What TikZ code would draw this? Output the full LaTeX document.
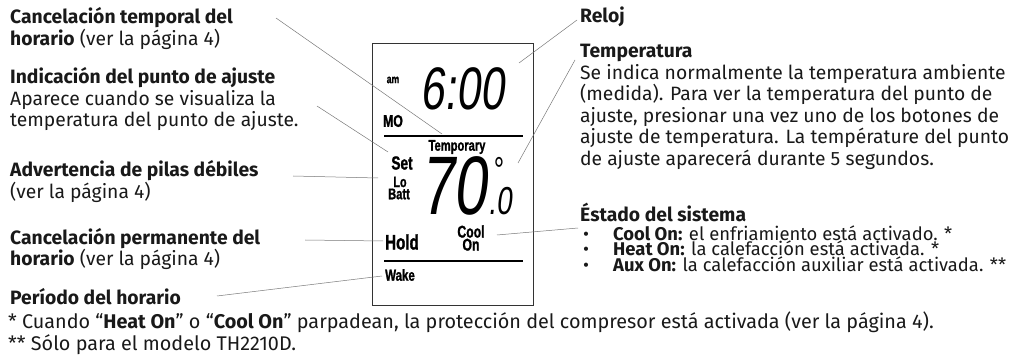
\documentclass[tikz,border=0pt]{standalone}
\usepackage{fontspec}
\setmainfont{Fira Sans}
\newfontfamily\lcdfont[FakeStretch=0.72,BoldFeatures={FakeBold=1.2}]{Liberation Sans}
\newfontfamily\segfont[FakeStretch=0.72,FakeSlant=0.12]{Liberation Sans}
\definecolor{leader}{RGB}{120,120,120}
\definecolor{ink}{RGB}{25,25,25}
\begin{document}
\begin{tikzpicture}[x=1pt,y=-1pt,
  lbl/.style={inner sep=0pt,anchor=base west,align=left,text=ink,font=\fontsize{19.3}{21.5}\selectfont},
  blt/.style={inner sep=0pt,anchor=base west,align=left,text=ink,font=\fontsize{18.4}{16}\selectfont},
  foot/.style={inner sep=0pt,anchor=base west,align=left,text=ink,font=\fontsize{19.8}{18}\selectfont},
  lcd/.style={inner sep=0pt,anchor=center,font=\lcdfont\bfseries\fontsize{#1}{#1}\selectfont},
  seg/.style={inner sep=0pt,anchor=base west,text depth=0pt,font=\segfont\fontsize{#1}{#1}\selectfont},
  ldr/.style={draw=leader,line width=0.5pt},
  bar/.style={draw=black,line width=2.4pt}
]
\useasboundingbox (0,0) rectangle (1023,358);

% LCD frame
\node[draw=black!80,line width=1.1pt,minimum width=161pt,minimum height=262pt,inner sep=0pt,anchor=north west] (lcdbox) at (372,43) {};
\coordinate (b1l) at (384,136); \coordinate (b1r) at (523,136);
\coordinate (b2l) at (384,261); \coordinate (b2r) at (523,261);
\draw[bar] (b1l) -- (b1r);
\draw[bar] (b2l) -- (b2r);

% LCD texts
\node[lcd=12] (am) at (393,80) {am};
\node[seg=60,text height=43pt] (clock) at (420,110) {6:00};
\node[lcd=17] (mo) at (393,121) {MO};
\node[lcd=15.5] (tempo) at (457,147) {Temporary};
\node[lcd=19] (set) at (402,163) {Set};
\node[lcd=15] (lo) at (400,182) {Lo};
\node[lcd=15.5] (batt) at (399,194) {Batt};
\node[seg=83,text height=60pt] (seventy) at (420,215) {70};
\node[seg=39,text height=28pt] (dec) at (488,215) {.0};
\node[inner sep=0pt,font=\lcdfont\fontsize{36}{36}\selectfont] (deg) at (499,170) {°};
\node[lcd=21] (hold) at (402,242) {Hold};
\node[lcd=17,align=center,font=\lcdfont\bfseries\fontsize{17}{13}\selectfont] (cool) at (471,238) {Cool\\On};
\node[lcd=16] (wake) at (400,275) {Wake};

% Left labels (anchor = baseline of last line)
\node[lbl] (ltemp) at (10,45.5) {\textbf{Cancelación temporal del}\\\textbf{horario} (ver la página 4)};
\node[lbl] (lset) at (10,127) {\textbf{Indicación del punto de ajuste}\\Aparece cuando se visualiza la\\temperatura del punto de ajuste.};
\node[lbl] (lbatt) at (10,198.5) {\textbf{Advertencia de pilas débiles}\\(ver la página 4)};
\node[lbl] (lhold) at (10,265.5) {\textbf{Cancelación permanente del}\\\textbf{horario} (ver la página 4)};
\node[lbl] (lwake) at (10,304) {\textbf{Período del horario}};

% Right labels
\node[lbl] (rclock) at (580,23) {\textbf{Reloj}};
\node[lbl] (rtemp) at (580,165.5) {\textbf{Temperatura}\\Se indica normalmente la temperatura ambiente\\(medida). Para ver la temperatura del punto de\\ajuste, presionar una vez uno de los botones de\\ajuste de temperatura. La température del punto\\de ajuste aparecerá durante 5 segundos.};
\node[lbl] (rstat) at (580,222) {\textbf{Éstado del sistema}};
\node[blt] (rlist) at (583,272) {\makebox[30pt][l]{•}\textbf{Cool On:} el enfriamiento está activado. *\\\makebox[30pt][l]{•}\textbf{Heat On:} la calefacción está activada. *\\\makebox[30pt][l]{•}\textbf{Aux On:} la calefacción auxiliar está activada. **};

% Footnotes
\node[foot] (fn) at (8,350) {* Cuando “\textbf{Heat On}” o “\textbf{Cool On}” parpadean, la protección del compresor está activada (ver la página 4).\\** Sólo para el modelo TH2210D.};

% Leader lines
\coordinate (a1) at (276,18);  \coordinate (e1) at (442,134);
\coordinate (a2) at (317,106); \coordinate (e2) at (388,152);
\coordinate (a3) at (293,176); \coordinate (e3) at (378,178);
\coordinate (a4) at (305,240); \coordinate (e4) at (383,241);
\coordinate (a5) at (217,296); \coordinate (e5) at (382,276);
\coordinate (a6) at (577,20);  \coordinate (e6) at (519,63);
\coordinate (a7) at (575,60);  \coordinate (e7) at (518,163);
\coordinate (a8) at (578,228); \coordinate (e8) at (497,235);
\foreach \i in {1,...,8} {\draw[ldr] (a\i) -- (e\i);}
\end{tikzpicture}
\end{document}
